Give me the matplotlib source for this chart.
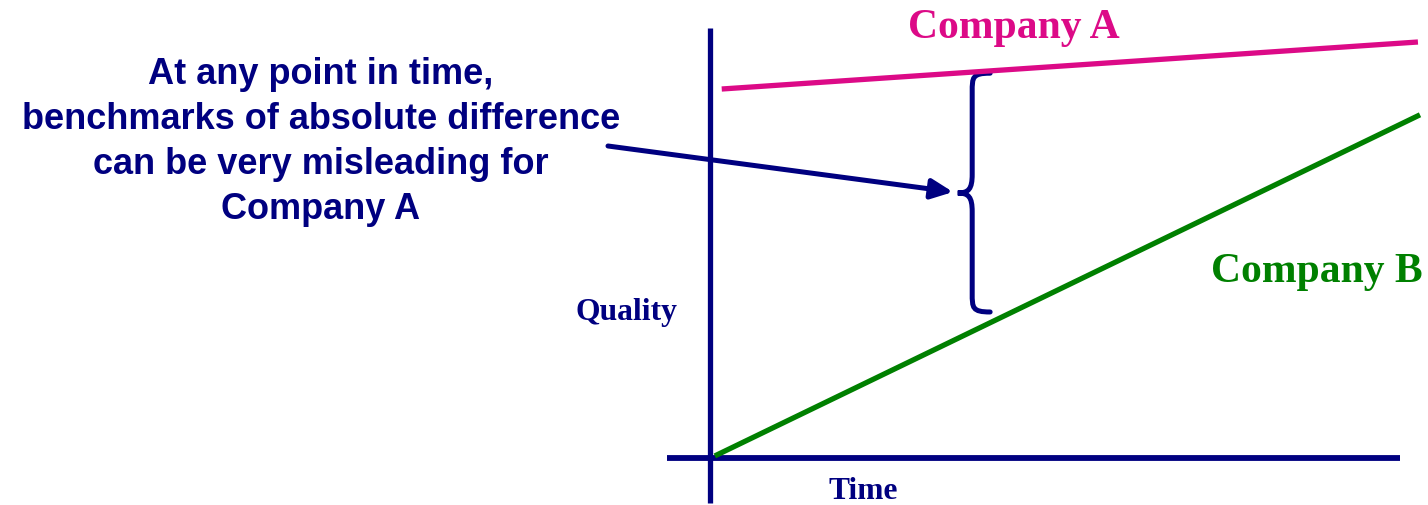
import numpy as np
import matplotlib.pyplot as plt
from matplotlib.path import Path
from matplotlib.patches import PathPatch

navy = '#000080'
pink = '#DC0A87'
green = '#008000'

# quality over time (arbitrary units)
time_a = [0.17, 10.26]
quality_a = [8.87, 10.0]
time_b = [0.07, 10.29]
quality_b = [0.05, 8.25]

# axis extents
time_axis = [-0.62, 10.0]
quality_axis = [-1.08, 10.34]

# brace between the two lines
brace_t = 3.80
brace_tip_t = 3.59
brace_end_t = 4.06
brace_top = 9.25
brace_mid = 6.37
brace_bot = 3.51

note = 'At any point in time,\nbenchmarks of absolute difference\ncan be very misleading for\nCompany A'

px = lambda x: (x - 710) / 69
py = lambda y: (458 - y) / 41.6

fig = plt.figure(figsize=(14.28, 5.05), dpi=100)
ax = fig.add_axes([0, 0, 1, 1])
ax.set_xlim(px(0), px(1428))
ax.set_ylim(py(505), py(0))
ax.axis('off')

# axes
ax.plot([0, 0], quality_axis, color=navy, lw=3.8, solid_capstyle='butt')
ax.plot(time_axis, [0, 0], color=navy, lw=4.2, solid_capstyle='butt')

ax.plot(time_a, quality_a, color=pink, lw=3.8, solid_capstyle='butt')
ax.plot(time_b, quality_b, color=green, lw=3.8, solid_capstyle='butt')

# curly brace
ry = 0.45
verts = [
    (brace_end_t, brace_top),
    (brace_t, brace_top), (brace_t, brace_top - 0.1), (brace_t, brace_top - ry),
    (brace_t, brace_mid + ry),
    (brace_t, brace_mid + 0.1), (brace_t - 0.05, brace_mid), (brace_tip_t, brace_mid),
    (brace_t - 0.05, brace_mid), (brace_t, brace_mid - 0.1), (brace_t, brace_mid - ry),
    (brace_t, brace_bot + ry),
    (brace_t, brace_bot + 0.1), (brace_t, brace_bot), (brace_end_t, brace_bot),
]
codes = [Path.MOVETO,
         Path.CURVE4, Path.CURVE4, Path.CURVE4,
         Path.LINETO,
         Path.CURVE4, Path.CURVE4, Path.CURVE4,
         Path.CURVE4, Path.CURVE4, Path.CURVE4,
         Path.LINETO,
         Path.CURVE4, Path.CURVE4, Path.CURVE4]
ax.add_patch(PathPatch(Path(verts, codes), facecolor='none', edgecolor=navy,
                       lw=3.6, capstyle='round'))

# arrow from the note to the brace
ax.annotate('', xy=(px(953), py(192)), xytext=(px(608), py(146)),
            arrowprops=dict(arrowstyle='-|>,head_length=1.3,head_width=0.6',
                            color=navy, lw=3.6, shrinkA=0, shrinkB=0))

ax.text(px(321), py(142), note, ha='center', va='center', color=navy,
        family='Liberation Sans', weight='bold', size=26, linespacing=1.375)

ax.text(px(1014), py(38), 'Company A', ha='center', va='baseline', color=pink,
        family='Liberation Serif', weight='bold', size=30)
ax.text(px(1317), py(282), 'Company B', ha='center', va='baseline', color=green,
        family='Liberation Serif', weight='bold', size=30)
ax.text(px(626), py(320), 'Quality', ha='center', va='baseline', color=navy,
        family='Liberation Serif', weight='bold', size=22.8)
ax.text(px(863), py(499), 'Time', ha='center', va='baseline', color=navy,
        family='Liberation Serif', weight='bold', size=22.7)

fig.savefig('out.png', dpi=100)
